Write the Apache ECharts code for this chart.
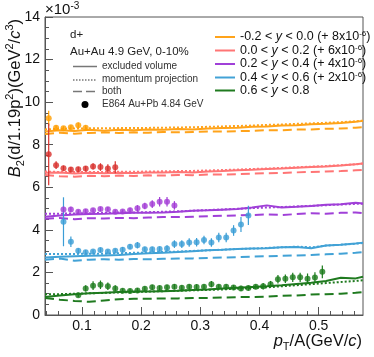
<!DOCTYPE html>
<html><head><meta charset="utf-8">
<script src="https://cdn.jsdelivr.net/npm/echarts@6/dist/echarts.min.js"></script>
<style>html,body{margin:0;padding:0;background:#fff}#c{width:374px;height:357px}</style>
</head><body><div id="c"></div>
<script>
const FONT = '"Liberation Sans", Arial, Helvetica, sans-serif';

// ---- ticks ----
const xMajorTicks = [0.1, 0.2, 0.3, 0.4, 0.5];
const xMinorTicks = [0.04, 0.06, 0.08, 0.12, 0.14, 0.16, 0.18, 0.22, 0.24, 0.26, 0.28, 0.32, 0.34, 0.36, 0.38, 0.42, 0.44, 0.46, 0.48, 0.52, 0.54, 0.56];

// ---- legend labels ----
const bandLo = ['-0.2', '0.0', '0.2', '0.4', '0.6'];
const bandHi = ['0.0', '0.2', '0.4', '0.6', '0.8'];
const bandOffset = ['8', '6', '4', '2', ''];

// ---- theory curves (x grid) ----
const lineX = [0.0375, 0.0625, 0.0875, 0.1125, 0.1375, 0.1625, 0.1875, 0.2125, 0.2375, 0.2625, 0.2875, 0.3125, 0.3375, 0.3625, 0.3875, 0.4125, 0.4375, 0.4625, 0.4875, 0.5125, 0.5375, 0.5625, 0.575];

const orangeSolid  = [8.62, 8.68, 8.64, 8.7, 8.66, 8.7, 8.68, 8.72, 8.7, 8.74, 8.72, 8.76, 8.78, 8.8, 8.84, 8.86, 8.9, 8.92, 8.96, 8.98, 9.02, 9.08, 9.12];
const orangeDotted = [8.72, 8.75, 8.76, 8.77, 8.77, 8.78, 8.78, 8.79, 8.8, 8.81, 8.82, 8.84, 8.86, 8.88, 8.9, 8.93, 8.95, 8.98, 9.0, 9.03, 9.06, 9.1, 9.13];
const orangeDashed = [8.5, 8.56, 8.52, 8.55, 8.58, 8.55, 8.58, 8.56, 8.6, 8.58, 8.6, 8.62, 8.62, 8.64, 8.65, 8.68, 8.68, 8.72, 8.72, 8.75, 8.76, 8.8, 8.82];

const redSolid  = [6.68, 6.7, 6.65, 6.68, 6.66, 6.68, 6.67, 6.7, 6.69, 6.72, 6.7, 6.74, 6.76, 6.8, 6.82, 6.86, 6.88, 6.92, 6.95, 6.98, 7.02, 7.08, 7.12];
const redDotted = [6.74, 6.72, 6.72, 6.72, 6.72, 6.73, 6.73, 6.74, 6.75, 6.76, 6.77, 6.79, 6.81, 6.83, 6.86, 6.88, 6.91, 6.94, 6.97, 7.0, 7.04, 7.08, 7.12];
const redDashed = [6.58, 6.52, 6.5, 6.54, 6.52, 6.55, 6.53, 6.56, 6.55, 6.58, 6.57, 6.6, 6.6, 6.62, 6.64, 6.66, 6.67, 6.7, 6.72, 6.74, 6.76, 6.8, 6.82];

const purpleSolid  = [4.62, 4.68, 4.72, 4.75, 4.76, 4.78, 4.8, 4.8, 4.82, 4.85, 4.9, 4.92, 4.95, 4.98, 5.05, 5.15, 5.05, 5.08, 5.12, 5.18, 5.2, 5.27, 5.24];
const purpleDotted = [4.76, 4.76, 4.77, 4.78, 4.8, 4.81, 4.82, 4.83, 4.85, 4.87, 4.9, 4.93, 4.96, 4.99, 5.02, 5.05, 5.07, 5.1, 5.13, 5.16, 5.19, 5.22, 5.23];
const purpleDashed = [4.52, 4.56, 4.5, 4.55, 4.53, 4.56, 4.55, 4.58, 4.6, 4.6, 4.62, 4.64, 4.66, 4.68, 4.7, 4.72, 4.7, 4.74, 4.78, 4.76, 4.8, 4.82, 4.78];

const blueSolid  = [2.7, 2.74, 2.76, 2.78, 2.8, 2.82, 2.86, 2.9, 2.92, 2.96, 3.0, 3.04, 3.06, 3.1, 3.12, 3.14, 3.18, 3.2, 3.14, 3.26, 3.3, 3.36, 3.4];
const blueDotted = [2.86, 2.86, 2.87, 2.88, 2.88, 2.9, 2.92, 2.94, 2.96, 2.98, 3.01, 3.04, 3.07, 3.1, 3.12, 3.15, 3.18, 3.21, 3.18, 3.26, 3.3, 3.35, 3.38];
const blueDashed = [2.6, 2.65, 2.55, 2.6, 2.62, 2.6, 2.63, 2.62, 2.64, 2.65, 2.66, 2.68, 2.7, 2.72, 2.74, 2.76, 2.78, 2.8, 2.82, 2.85, 2.88, 2.92, 2.96];

const greenSolid  = [0.85, 0.92, 0.98, 1.02, 1.05, 1.08, 1.1, 1.1, 1.12, 1.14, 1.18, 1.2, 1.24, 1.28, 1.32, 1.35, 1.4, 1.46, 1.52, 1.6, 1.75, 1.72, 1.8];
const greenDotted = [0.98, 0.98, 1.0, 1.02, 1.04, 1.06, 1.08, 1.1, 1.12, 1.14, 1.16, 1.18, 1.2, 1.24, 1.27, 1.3, 1.35, 1.4, 1.45, 1.5, 1.55, 1.6, 1.63];
const greenDashed = [0.8, 0.72, 0.66, 0.62, 0.68, 0.74, 0.76, 0.76, 0.78, 0.78, 0.8, 0.8, 0.82, 0.84, 0.84, 0.86, 0.9, 0.92, 0.96, 0.98, 1.0, 1.04, 1.08];

// ---- E864 data points ----
const orangeX = [0.04375, 0.05625, 0.06875, 0.08125, 0.09375, 0.10625];
const orangeY = [9.24, 8.8, 8.77, 8.82, 8.92, 8.8];
const orangeErr = [0.35, 0.12, 0.1, 0.1, 0.12, 0.12];

const redX = [0.04375, 0.05625, 0.06875, 0.08125, 0.09375, 0.10625, 0.11875, 0.13125, 0.14375, 0.15625];
const redY = [7.55, 7.04, 6.9, 6.83, 6.85, 6.88, 6.98, 6.95, 6.88, 6.94];
const redErr = [1.45, 0.18, 0.12, 0.12, 0.12, 0.12, 0.15, 0.18, 0.2, 0.28];

const purpleX = [0.06875, 0.08125, 0.09375, 0.10625, 0.11875, 0.13125, 0.14375, 0.15625, 0.16875, 0.18125, 0.19375, 0.20625, 0.21875, 0.23125, 0.24375, 0.25625];
const purpleY = [4.96, 4.96, 4.85, 4.88, 4.92, 4.98, 4.97, 4.85, 4.86, 4.92, 5.01, 5.12, 5.21, 5.32, 5.32, 5.15];
const purpleErr = [0.15, 0.12, 0.1, 0.1, 0.1, 0.1, 0.1, 0.1, 0.1, 0.12, 0.15, 0.15, 0.18, 0.22, 0.22, 0.2];

const blueX = [0.06875, 0.08125, 0.09375, 0.10625, 0.11875, 0.13125, 0.14375, 0.15625, 0.16875, 0.18125, 0.19375, 0.20625, 0.21875, 0.23125, 0.24375, 0.25625, 0.26875, 0.28125, 0.29375, 0.30625, 0.31875, 0.33125, 0.34375, 0.35625, 0.36875, 0.38125];
const blueY = [4.38, 3.44, 3.02, 2.95, 2.98, 3.05, 2.98, 3.02, 3.07, 3.21, 3.28, 3.09, 3.09, 3.1, 3.13, 3.33, 3.33, 3.41, 3.42, 3.52, 3.41, 3.64, 3.64, 3.97, 4.25, 4.68];
const blueErr = [1.15, 0.25, 0.12, 0.1, 0.1, 0.12, 0.1, 0.1, 0.12, 0.12, 0.15, 0.12, 0.12, 0.12, 0.15, 0.18, 0.18, 0.2, 0.2, 0.2, 0.2, 0.22, 0.22, 0.25, 0.35, 0.45];

const greenX = [0.09375, 0.10625, 0.11875, 0.13125, 0.14375, 0.15625, 0.16875, 0.18125, 0.19375, 0.20625, 0.21875, 0.23125, 0.24375, 0.25625, 0.26875, 0.28125, 0.29375, 0.30625, 0.31875, 0.33125, 0.34375, 0.35625, 0.36875, 0.38125, 0.39375, 0.40625, 0.41875, 0.43125, 0.44375, 0.45625, 0.46875, 0.48125, 0.49375, 0.50625];
const greenY = [0.93, 1.25, 1.38, 1.42, 1.35, 1.25, 1.14, 1.13, 1.15, 1.23, 1.3, 1.27, 1.3, 1.33, 1.28, 1.33, 1.32, 1.33, 1.45, 1.33, 1.33, 1.29, 1.25, 1.27, 1.33, 1.35, 1.45, 1.68, 1.7, 1.77, 1.77, 1.7, 1.76, 2.03];
const greenErr = [0.1, 0.15, 0.2, 0.2, 0.18, 0.15, 0.12, 0.12, 0.12, 0.12, 0.12, 0.12, 0.12, 0.12, 0.12, 0.12, 0.12, 0.12, 0.15, 0.12, 0.12, 0.12, 0.12, 0.12, 0.12, 0.15, 0.15, 0.2, 0.2, 0.22, 0.22, 0.25, 0.25, 0.3];

// ---- styles ----
const lineColors = ['#ffa31a', '#ff7575', '#a040d8', '#42a2d6', '#1f7a1f'];
const markColors = ['#ff9d00', '#d8302c', '#a33cd6', '#3b9dd6', '#1a7a1a'];

const bandSolid = [orangeSolid, redSolid, purpleSolid, blueSolid, greenSolid];
const bandDotted = [orangeDotted, redDotted, purpleDotted, blueDotted, greenDotted];
const bandDashed = [orangeDashed, redDashed, purpleDashed, blueDashed, greenDashed];
const bandPX = [orangeX, redX, purpleX, blueX, greenX];
const bandPY = [orangeY, redY, purpleY, blueY, greenY];
const bandPE = [orangeErr, redErr, purpleErr, blueErr, greenErr];

const bandNames = bandLo.map((lo, i) => lo + ' < y < ' + bandHi[i] + (bandOffset[i] ? ' (+ ' + bandOffset[i] + 'x10-6)' : ''));
const nameRich = {};
bandLo.forEach((lo, i) => {
  nameRich[bandNames[i]] = '{n|' + lo + ' < }{i|y}{n| < ' + bandHi[i] + (bandOffset[i] ? ' (+ ' + bandOffset[i] + 'x10}{sup|-6}{n|)}' : '}');
});

const series = [];
for (let b = 0; b < 5; b++) {
  const mk = (arr) => lineX.map((x, i) => [x, arr[i]]);
  series.push({ name: bandNames[b], type: 'line', data: mk(bandSolid[b]), showSymbol: false, symbol: 'none',
    lineStyle: { color: lineColors[b], width: 2 }, itemStyle: { color: lineColors[b] }, z: 2, silent: true });
  series.push({ name: bandNames[b] + ' mp', type: 'line', data: mk(bandDotted[b]), showSymbol: false, symbol: 'none',
    lineStyle: { color: lineColors[b], width: 2, type: [2, 2] }, z: 2, silent: true });
  series.push({ name: bandNames[b] + ' both', type: 'line', data: mk(bandDashed[b]), showSymbol: false, symbol: 'none',
    lineStyle: { color: lineColors[b], width: 2, type: [9, 5] }, z: 2, silent: true });
  const col = markColors[b];
  series.push({ name: bandNames[b] + ' err', type: 'custom', z: 4, silent: true,
    data: bandPX[b].map((x, i) => [x, bandPY[b][i], bandPE[b][i]]),
    encode: { x: 0, y: 1 },
    renderItem: (params, api) => {
      const x = api.value(0), y = api.value(1), e = api.value(2);
      const p1 = api.coord([x, y + e]);
      const p2 = api.coord([x, y - e]);
      return { type: 'line', shape: { x1: p1[0], y1: p1[1], x2: p2[0], y2: p2[1] }, style: { stroke: col, lineWidth: 1.2 } };
    }
  });
  series.push({ name: bandNames[b] + ' pts', type: 'scatter', z: 5, silent: true,
    data: bandPX[b].map((x, i) => [x, bandPY[b][i]]),
    symbol: 'circle', symbolSize: 6, itemStyle: { color: col } });
}

const axisCol = '#555';
const chart = echarts.init(document.getElementById('c'), null, { renderer: 'canvas' });
chart.setOption({
  animation: false,
  backgroundColor: '#fff',
  textStyle: { fontFamily: FONT },
  grid: { left: 45, right: 11, top: 17, bottom: 42, show: true, borderColor: axisCol, borderWidth: 1, backgroundColor: 'transparent' },
  xAxis: [
    { type: 'value', position: 'bottom', min: 0.0375, max: 0.575,
      axisLine: { show: true, onZero: false, lineStyle: { color: axisCol, width: 1 } },
      axisTick: { show: true, inside: true, length: 8, customValues: xMajorTicks, lineStyle: { color: axisCol } },
      axisLabel: { customValues: xMajorTicks, formatter: v => v.toFixed(1), fontSize: 14, color: '#111', margin: 4, fontFamily: FONT },
      splitLine: { show: false } },
    { type: 'value', position: 'bottom', min: 0.0375, max: 0.575,
      axisLine: { show: false },
      axisTick: { show: true, inside: true, length: 4, customValues: xMinorTicks, lineStyle: { color: axisCol } },
      axisLabel: { show: false }, splitLine: { show: false } }
  ],
  yAxis: { type: 'value', min: 0, max: 14, interval: 2,
    axisLine: { show: true, onZero: false, lineStyle: { color: axisCol, width: 1 } },
    axisTick: { show: true, inside: true, length: 8, lineStyle: { color: axisCol } },
    minorTick: { show: true, splitNumber: 4, length: 4, lineStyle: { color: axisCol } },
    axisLabel: { fontSize: 14, color: '#111', margin: 5, fontFamily: FONT },
    splitLine: { show: false } },
  legend: {
    data: bandNames, orient: 'vertical', left: 210, top: 25, icon: 'rect', itemWidth: 20, itemHeight: 2, itemGap: 0,
    selectedMode: false,
    formatter: name => nameRich[name],
    textStyle: { fontFamily: FONT, fontSize: 12.5, color: '#111',
      rich: {
        n: { fontSize: 12.5, lineHeight: 14, fontFamily: FONT, color: '#111' },
        i: { fontSize: 12.5, lineHeight: 14, fontStyle: 'italic', fontFamily: FONT, color: '#111' },
        sup: { fontSize: 8, lineHeight: 8, verticalAlign: 'top', fontFamily: FONT, color: '#111' }
      } }
  },
  graphic: [
    { type: 'text', left: 45, top: 1, style: { text: '{n|×10}{sup|-3}', fill: '#111',
      rich: { n: { fontSize: 15, lineHeight: 18, fontFamily: FONT }, sup: { fontSize: 10, lineHeight: 10, verticalAlign: 'top', fontFamily: FONT } } } },
    { type: 'text', x: 15, y: 19, rotation: Math.PI / 2, style: {
      text: '{i|B}{sub|2}{n|(d/1.19p}{sup|2}{n|)(GeV}{sup|2}{n|/}{i|c}{sup|3}{n|)}', align: 'right', verticalAlign: 'middle', fill: '#111',
      rich: { n: { fontSize: 16.5, lineHeight: 22, fontFamily: FONT }, i: { fontSize: 16.5, lineHeight: 22, fontStyle: 'italic', fontFamily: FONT },
        sup: { fontSize: 11, lineHeight: 11, verticalAlign: 'top', fontFamily: FONT }, sub: { fontSize: 11, lineHeight: 11, verticalAlign: 'bottom', fontFamily: FONT } } } },
    { type: 'text', x: 362, y: 341, style: {
      text: '{i|p}{sub|T}{n|/A(GeV/}{i|c}{n|)}', align: 'right', verticalAlign: 'middle', fill: '#111',
      rich: { n: { fontSize: 16.5, lineHeight: 22, fontFamily: FONT }, i: { fontSize: 16.5, lineHeight: 22, fontStyle: 'italic', fontFamily: FONT },
        sub: { fontSize: 11, lineHeight: 11, verticalAlign: 'bottom', fontFamily: FONT } } } },
    { type: 'text', x: 70, y: 35, style: { text: 'd+', font: '11.5px ' + FONT, fill: '#222', verticalAlign: 'middle' } },
    { type: 'text', x: 70, y: 51.5, style: { text: 'Au+Au 4.9 GeV, 0-10%', font: '11.5px ' + FONT, fill: '#222', verticalAlign: 'middle' } },
    { type: 'line', shape: { x1: 73, y1: 66.5, x2: 97, y2: 66.5 }, style: { stroke: '#777', lineWidth: 1.5 } },
    { type: 'line', shape: { x1: 73, y1: 80, x2: 97, y2: 80 }, style: { stroke: '#777', lineWidth: 1.5, lineDash: [1.5, 1.5] } },
    { type: 'line', shape: { x1: 73, y1: 91.5, x2: 97, y2: 91.5 }, style: { stroke: '#777', lineWidth: 1.5, lineDash: [9, 4] } },
    { type: 'circle', shape: { cx: 85, cy: 104.5, r: 3.5 }, style: { fill: '#000' } },
    { type: 'text', x: 102, y: 66, style: { text: 'excluded volume', font: '10px ' + FONT, fill: '#333', verticalAlign: 'middle' } },
    { type: 'text', x: 102, y: 79.5, style: { text: 'momentum projection', font: '10px ' + FONT, fill: '#333', verticalAlign: 'middle' } },
    { type: 'text', x: 102, y: 91, style: { text: 'both', font: '10px ' + FONT, fill: '#333', verticalAlign: 'middle' } },
    { type: 'text', x: 102, y: 104, style: { text: 'E864 Au+Pb 4.84 GeV', font: '10px ' + FONT, fill: '#333', verticalAlign: 'middle' } }
  ],
  series: series
});
</script>
</body></html>
